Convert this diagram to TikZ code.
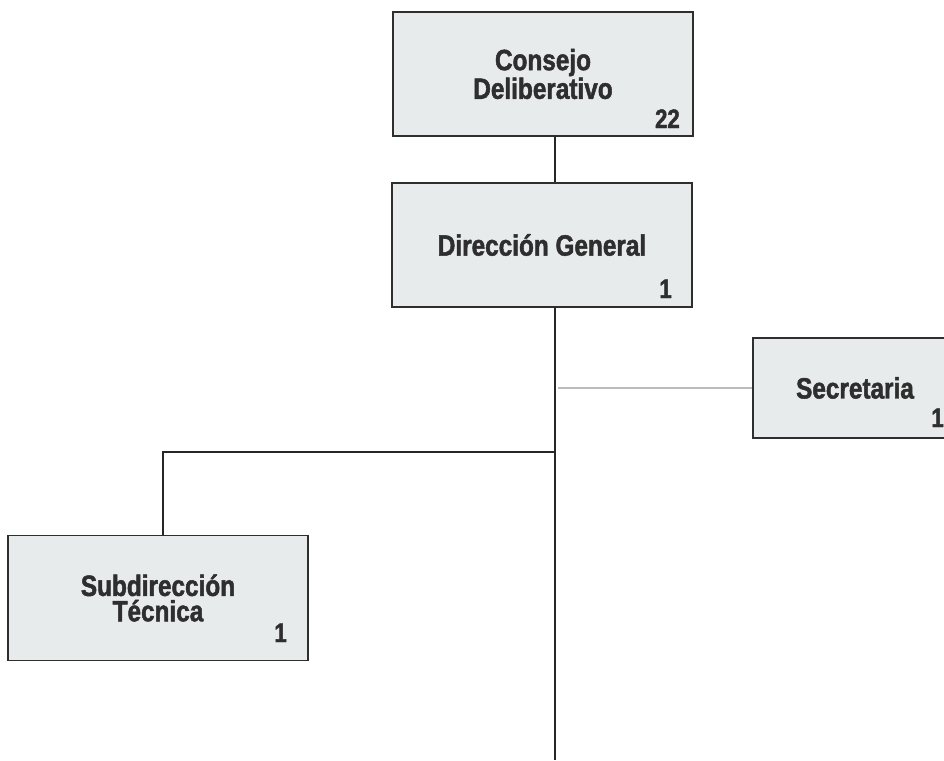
\documentclass[tikz,border=0pt]{standalone}
\usepackage{fontspec}
\newfontfamily\orgfont{Liberation Sans Bold}[FakeStretch=0.83, FakeBold=1.6]
\definecolor{boxfill}{HTML}{E8EBEC}
\definecolor{boxline}{HTML}{2E2E2E}
\definecolor{lightlink}{HTML}{BBBBBB}
\tikzset{
  unidad/.style={draw=boxline, fill=boxfill, line width=1.1pt, inner sep=0pt,
    minimum width=225pt, align=center, text=boxline,
    font=\orgfont\fontsize{22}{19}\selectfont},
  cifra/.style={anchor=base east, inner sep=0pt, text=boxline,
    font=\orgfont\fontsize{20}{20}\selectfont},
  enlace/.style={draw=black!85, line width=1.5pt},
  apoyo/.style={draw=lightlink, line width=1.5pt}
}
\begin{document}
\begin{tikzpicture}[x=0.75pt,y=-0.75pt]
\useasboundingbox (0,0) rectangle (944,760);
% unidades
\node[unidad, minimum height=93pt] (consejo) at (543,74) {Consejo\\Deliberativo};
\node[unidad, minimum height=93pt] (direccion) at (542,245) {Dirección General};
\node[unidad, minimum width=153pt, minimum height=75pt] (secretaria) at (855,388) {Secretaria};
\node[unidad, minimum height=94pt] (subdireccion) at (158,598) {Subdirección\\Técnica};
% plazas
\node[cifra] (consejo-n) at (680,128) {22};
\node[cifra] (direccion-n) at (672,298) {1};
\node[cifra] (secretaria-n) at (944,427) {1};
\node[cifra] (subdireccion-n) at (287,642) {1};
% lineas
\coordinate (tronco) at (555,760);
\coordinate (cruce) at (555,452);
\coordinate (rama) at (163,452);
\path[enlace] (consejo.south -| tronco) -- (direccion.north -| tronco);
\path[enlace] (direccion.south -| tronco) -- (tronco);
\path[apoyo] (secretaria.west) -- ([xshift=2.5pt]secretaria.west -| tronco);
\path[enlace] (cruce) -- (rama) -- (rama |- subdireccion.north);
\end{tikzpicture}
\end{document}
